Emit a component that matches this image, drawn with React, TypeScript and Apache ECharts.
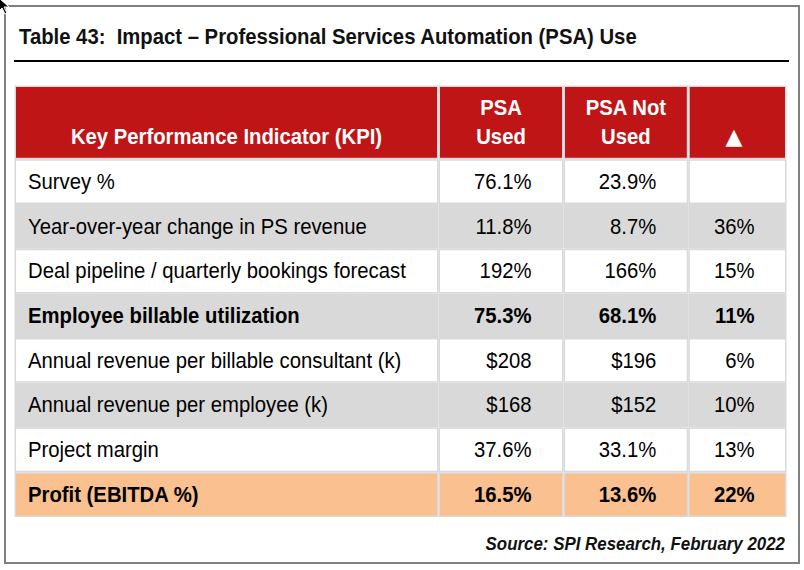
import React, { useEffect, useRef } from "react";
import * as echarts from "echarts";

// ---- data ----
const title = "Table 43:  Impact \u2013 Professional Services Automation (PSA) Use";
const source = "Source: SPI Research, February 2022";
const headers = ["Key Performance Indicator (KPI)", "PSA\nUsed", "PSA Not\nUsed", "\u25B2"];
const kpis = [
  "Survey %",
  "Year-over-year change in PS revenue",
  "Deal pipeline / quarterly bookings forecast",
  "Employee billable utilization",
  "Annual revenue per billable consultant (k)",
  "Annual revenue per employee (k)",
  "Project margin",
  "Profit (EBITDA %)",
];
const psaUsed = ["76.1%", "11.8%", "192%", "75.3%", "$208", "$168", "37.6%", "16.5%"];
const psaNotUsed = ["23.9%", "8.7%", "166%", "68.1%", "$196", "$152", "33.1%", "13.6%"];
const change = ["", "36%", "15%", "11%", "6%", "10%", "13%", "22%"];
const boldRows = [3, 7];
const shadedRows = [1, 3, 5];
const highlightRows = [7];

// ---- layout / style ----
const W = 804;
const H = 570;
const TABLE = { left: 14.5, top: 85.5, width: 772, height: 431.5 };
const COL_EDGES = [0, 424, 549, 673.8, 772];
const HEADER_DX = [0, 0, 0, -3.5];
const HEADER_FONT = [FONT_MAIN(), FONT_MAIN(), FONT_MAIN(), '"DejaVu Sans", sans-serif'];
const HEADER_SIZE = [20.3, 20.3, 20.3, 22];
const HEADER_SY = [1.1, 1.1, 1.1, 1];
const HEADER_H = 73.8;
const ROW_H = 44.7;
const FONT = FONT_MAIN();
const SY = 1.1;
const RED = "#C01517";
const GRAY = "#D9D9D9";
const ORANGE = "#FAC08F";

function FONT_MAIN() {
  return '"Liberation Sans", Arial, sans-serif';
}

type Cell = { col: number; row: number; text: string; bold: boolean; fill: string; header: boolean };

const cells: Cell[] = [];
headers.forEach((h, c) => cells.push({ col: c, row: 0, text: h, bold: true, fill: RED, header: true }));
kpis.forEach((k, i) => {
  const fill = highlightRows.includes(i) ? ORANGE : shadedRows.includes(i) ? GRAY : "#FFFFFF";
  const bold = boldRows.includes(i);
  [k, psaUsed[i], psaNotUsed[i], change[i]].forEach((t, c) =>
    cells.push({ col: c, row: i + 1, text: t, bold, fill, header: false })
  );
});

export default function App() {
  const ref = useRef<HTMLDivElement>(null);
  useEffect(() => {
    if (!ref.current) return;
    const chart = echarts.init(ref.current, undefined, { renderer: "svg" });
    const option: any = {
      animation: false,
      backgroundColor: "#FFFFFF",
      grid: { left: TABLE.left, top: TABLE.top, width: TABLE.width, height: TABLE.height },
      xAxis: { type: "value", min: 0, max: TABLE.width, show: false },
      yAxis: { type: "value", min: 0, max: TABLE.height, inverse: true, show: false },
      graphic: [
        {
          type: "rect",
          shape: { x: 5, y: 6, width: 794, height: 557 },
          style: { fill: "none", stroke: "#808080", lineWidth: 2 },
        },
        {
          type: "text",
          x: 19,
          y: 36,
          scaleY: 1.13,
          style: {
            text: title,
            fill: "#111111",
            fontSize: 20.3,
            fontWeight: "bold",
            fontFamily: FONT,
            align: "left",
            verticalAlign: "middle",
          },
        },
        {
          type: "line",
          shape: { x1: 14, y1: 61, x2: 789, y2: 61 },
          style: { stroke: "#000000", lineWidth: 2 },
        },
        {
          type: "text",
          x: 785,
          y: 543.3,
          scaleY: 1.1,
          style: {
            text: source,
            fill: "#111111",
            fontSize: 16.9,
            fontWeight: "bold",
            fontStyle: "italic",
            fontFamily: FONT,
            align: "right",
            verticalAlign: "middle",
          },
        },
        {
          type: "polygon",
          shape: { points: [[-1, -2], [-1, 11], [2, 8], [5, 14], [7, 13], [4, 7], [9, 7]] },
          style: { fill: "#000000", stroke: "#FFFFFF", lineWidth: 1 },
        },
      ],
      series: [
        {
          type: "custom",
          coordinateSystem: "cartesian2d",
          silent: true,
          clip: false,
          data: cells.map((c) => [c.col, c.row]),
          renderItem: (params: any, api: any) => {
            const c = cells[params.dataIndex];
            const col = api.value(0);
            const row = api.value(1);
            const y0 = row === 0 ? 0 : HEADER_H + (row - 1) * ROW_H;
            const y1 = row === 0 ? HEADER_H : y0 + ROW_H;
            const p0 = api.coord([COL_EDGES[col], y0]);
            const p1 = api.coord([COL_EDGES[col + 1], y1]);
            const x = p0[0];
            const y = p0[1];
            const w = p1[0] - p0[0];
            const h = p1[1] - p0[1];
            const children: any[] = [
              { type: "rect", shape: { x, y, width: w, height: h }, style: { fill: GRAY } },
              {
                type: "rect",
                shape: { x: x + 1.5, y: y + 1.5, width: w - 3, height: h - 3 },
                style: { fill: c.fill },
              },
            ];
            if (c.header) {
              const lines = c.text.split("\n");
              lines.forEach((ln, i) => {
                children.push({
                  type: "text",
                  x: x + w / 2 + HEADER_DX[col],
                  y: y + h - 23 - (lines.length - 1 - i) * 28.3,
                  scaleY: HEADER_SY[col],
                  style: {
                    text: ln,
                    fill: "#FFFFFF",
                    fontSize: HEADER_SIZE[col],
                    fontWeight: "bold",
                    fontFamily: HEADER_FONT[col],
                    align: "center",
                    verticalAlign: "middle",
                  },
                });
              });
            } else if (c.text) {
              children.push({
                type: "text",
                x: col === 0 ? x + 13.5 : x + w - 32,
                y: y + h / 2,
                scaleY: SY,
                style: {
                  text: c.text,
                  fill: "#000000",
                  fontSize: 20.3,
                  fontWeight: c.bold ? "bold" : "normal",
                  fontFamily: FONT,
                  align: col === 0 ? "left" : "right",
                  verticalAlign: "middle",
                },
              });
            }
            return { type: "group", children };
          },
        },
      ],
    };
    chart.setOption(option);
    return () => chart.dispose();
  }, []);
  return (
    <div
      ref={ref}
      style={{ position: "fixed", left: 0, top: 0, width: W, height: H, background: "#FFFFFF" }}
    />
  );
}
